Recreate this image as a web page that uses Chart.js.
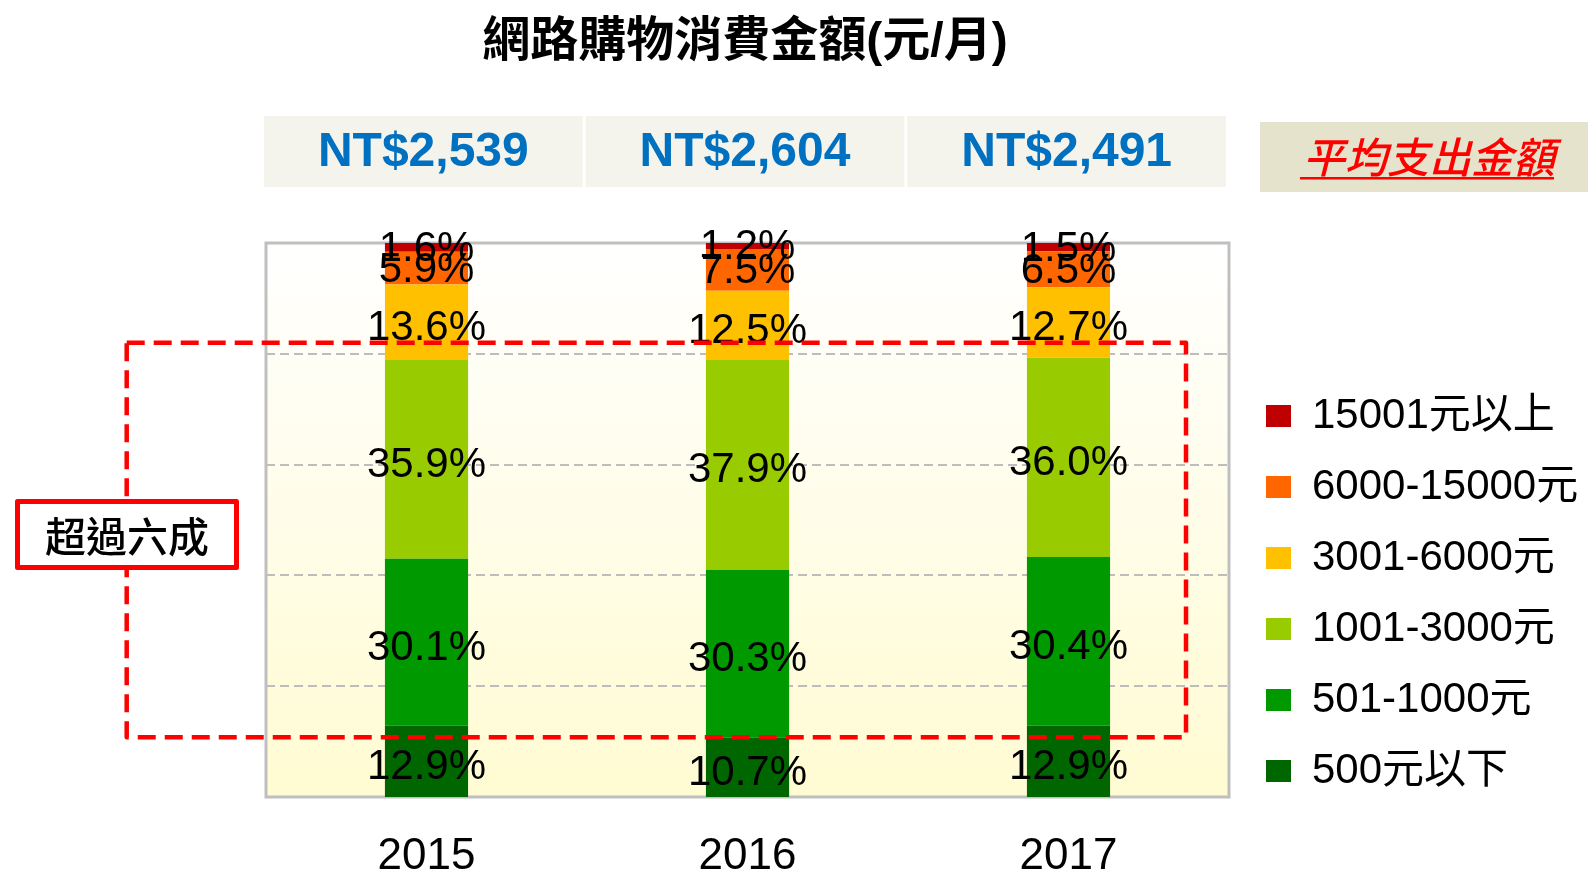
<!DOCTYPE html>
<html><head><meta charset="utf-8">
<script src="https://cdn.jsdelivr.net/npm/chart.js@4.4.0/dist/chart.umd.min.js"></script>
<style>html,body{margin:0;padding:0;background:#fff;}#wrap{width:1588px;height:871px;position:relative;overflow:hidden;}</style>
</head><body><div id="wrap"><canvas id="c" width="1588" height="871"></canvas></div>
<script>
// ---- data ----
const years = ['2015', '2016', '2017'];
const averages = ['NT$2,539', 'NT$2,604', 'NT$2,491'];
const seriesNames = ['500元以下', '501-1000元', '1001-3000元', '3001-6000元', '6000-15000元', '15001元以上'];
const under500 = [12.9, 10.7, 12.9];
const r501to1000 = [30.1, 30.3, 30.4];
const r1001to3000 = [35.9, 37.9, 36.0];
const r3001to6000 = [13.6, 12.5, 12.7];
const r6000to15000 = [5.9, 7.5, 6.5];
const over15001 = [1.6, 1.2, 1.5];
const yTicks = [0, 20, 40, 60, 80, 100];
const titleText = '網路購物消費金額(元/月)';
const avgLabel = '平均支出金額';
const noteText = '超過六成';
const bracketRange = [10.8, 82];   // share range enclosed by the red dashed box

// ---- styles ----
const seriesColors = ['#006600', '#009900', '#99CC00', '#FFC000', '#FF6600', '#C00000'];
const LAT = "'Liberation Sans','Noto Sans CJK TC',sans-serif";
const CJK = "'Noto Sans CJK TC','Liberation Sans',sans-serif";
const PLOT_RIGHT = 1229;

const seriesValues = [under500, r501to1000, r1001to3000, r3001to6000, r6000to15000, over15001];

const deco = {
  id: 'deco',
  afterLayout(chart) {
    const L = chart.legend, ca = chart.chartArea;
    const w = L.width, h = L.height;
    L.left = ca.right + 8; L.right = L.left + w;
    L.top = 366; L.bottom = L.top + h;
  },
  beforeDraw(chart) {
    const {ctx, chartArea: ca} = chart;
    ctx.save();
    const g = ctx.createLinearGradient(0, ca.top, 0, ca.bottom);
    g.addColorStop(0, '#FFFFFF');
    g.addColorStop(1, '#FFFBD2');
    ctx.fillStyle = g;
    ctx.fillRect(ca.left, ca.top, ca.width, ca.height);

    // title
    ctx.fillStyle = '#000';
    ctx.textAlign = 'center';
    ctx.textBaseline = 'middle';
    ctx.font = "bold 48px " + LAT;
    ctx.fillText(titleText, 745, 43);

    // average header boxes
    const W = ca.right - (ca.left - 2);
    const cw = W / years.length;
    years.forEach((y, i) => {
      const bl = ca.left - 2 + i * cw;
      ctx.fillStyle = '#F4F3EC';
      ctx.fillRect(bl, 116, cw - 3, 71);
      ctx.fillStyle = '#0070C0';
      ctx.font = "bold 48px " + LAT;
      ctx.fillText(averages[i], bl + (cw - 3) / 2, 153);
    });

    // avg label box
    ctx.fillStyle = '#E5E3CC';
    ctx.fillRect(1260, 122, 328, 70);
    ctx.fillStyle = '#FF0000';
    ctx.font = "italic 500 42px " + CJK;
    const tw = ctx.measureText(avgLabel).width;
    ctx.fillText(avgLabel, 1429, 157);
    ctx.fillRect(1429 - tw / 2 - 3, 177, tw + 2, 2.5);
    ctx.restore();
  },
  beforeDatasetsDraw(chart) {
    const {ctx, chartArea: ca} = chart;
    const ys = chart.scales.y;
    ctx.save();
    // dashed horizontal grid at the inner ticks
    ctx.strokeStyle = '#BDBDBD';
    ctx.lineWidth = 2;
    ctx.setLineDash([9, 5]);
    yTicks.slice(1, -1).forEach(t => {
      const y = Math.round(ys.getPixelForValue(t));
      ctx.beginPath();
      ctx.moveTo(ca.left, y);
      ctx.lineTo(ca.right, y);
      ctx.stroke();
    });
    ctx.setLineDash([]);
    ctx.strokeStyle = '#BFBFBF';
    ctx.lineWidth = 3;
    ctx.strokeRect(ca.left, ca.top, ca.width, ca.height);
    ctx.restore();
  },
  afterDatasetsDraw(chart) {
    const {ctx} = chart;
    const ys = chart.scales.y;
    ctx.save();
    ctx.fillStyle = '#000';
    ctx.textAlign = 'center';
    ctx.textBaseline = 'middle';
    ctx.font = "42px " + LAT;
    chart.data.datasets.forEach((ds, di) => {
      const meta = chart.getDatasetMeta(di);
      meta.data.forEach((bar, i) => {
        const v = ds.data[i];
        const yc = (bar.y + bar.base) / 2 + (v > 10 ? 6 : 2);
        ctx.fillText(v.toFixed(1) + '%', bar.x, yc);
      });
    });

    // red dashed bracket box
    const yTop = ys.getPixelForValue(bracketRange[1]);
    const yBot = ys.getPixelForValue(bracketRange[0]);
    ctx.strokeStyle = '#FF0000';
    ctx.lineWidth = 4.5;
    ctx.setLineDash([18, 9]);
    ctx.lineJoin = 'round';
    ctx.strokeRect(126.7, yTop, 1186 - 126.7, yBot - yTop);
    ctx.setLineDash([]);

    // note box
    ctx.fillStyle = '#FFFFFF';
    ctx.fillRect(17.5, 501.5, 219, 66);
    ctx.lineWidth = 5;
    ctx.strokeRect(17.5, 501.5, 219, 66);
    ctx.fillStyle = '#000';
    ctx.font = "500 41px " + CJK;
    ctx.fillText(noteText, 127, 536);
    ctx.restore();
  }
};

const chart = new Chart(document.getElementById('c'), {
  type: 'bar',
  data: {
    labels: years,
    datasets: seriesNames.map((name, k) => ({
      label: name,
      data: seriesValues[k],
      backgroundColor: seriesColors[k],
      borderWidth: 0,
      categoryPercentage: 1,
      barPercentage: 0.259
    }))
  },
  options: {
    responsive: false,
    animation: false,
    devicePixelRatio: 1,
    layout: {padding: {top: 243, left: 266, right: 6, bottom: 0}},
    plugins: {
      title: {display: false},
      tooltip: {enabled: false},
      legend: {
        position: 'right',
        align: 'start',
        reverse: true,
        labels: {
          boxWidth: 25,
          boxHeight: 22,
          padding: 29,
          color: '#000',
          font: {size: 42, family: LAT}
        }
      }
    },
    scales: {
      x: {
        stacked: true,
        grid: {display: false, drawTicks: false, tickLength: 0},
        border: {display: false},
        ticks: {color: '#000', padding: 42, font: {size: 44, family: LAT, lineHeight: 0.8}},
        afterFit: (s) => { s.height = 74; }
      },
      y: {
        display: false,
        stacked: true,
        min: yTicks[0],
        max: yTicks[yTicks.length - 1]
      }
    }
  },
  plugins: [deco]
});
// fit the plot's right edge (legend width depends on the measured text)
for (let k = 0; k < 3; k++) {
  const diff = chart.chartArea.right - PLOT_RIGHT;
  if (Math.abs(diff) < 0.5) break;
  chart.options.layout.padding.right = Math.max(0, chart.options.layout.padding.right + diff);
  chart.update();
}
</script>
</body></html>
